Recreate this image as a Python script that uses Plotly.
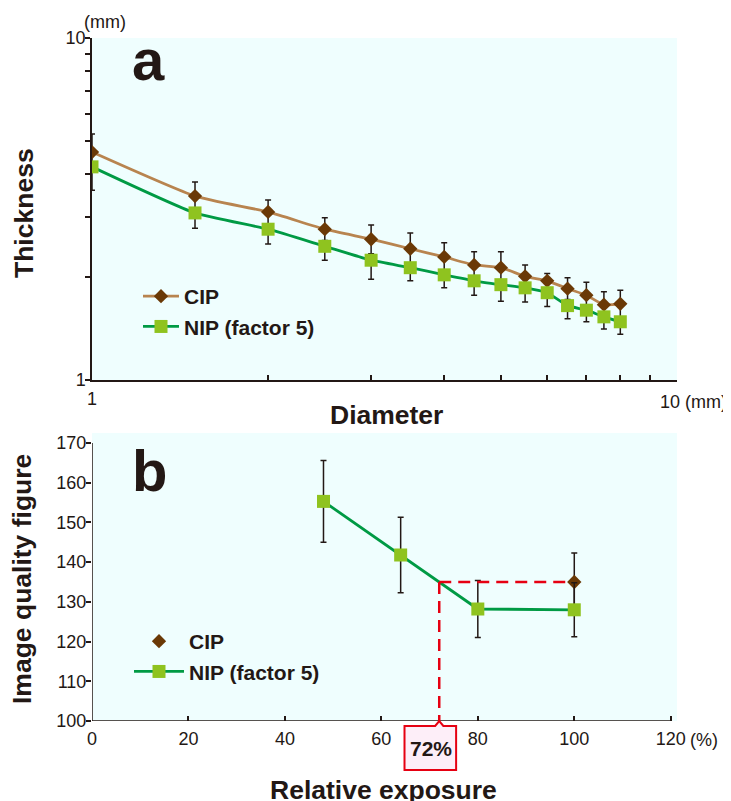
import plotly.graph_objects as go

# ---------------- data ----------------
diam = [1, 1.5, 2, 2.5, 3, 3.5, 4, 4.5, 5, 5.5, 6, 6.5, 7, 7.5, 8]
cip_thk = [4.64, 3.45, 3.10, 2.76, 2.58, 2.42, 2.29, 2.17, 2.13, 2.01, 1.95, 1.85, 1.77, 1.66, 1.67]
cip_err_up = [0.60, 0.34, 0.26, 0.22, 0.26, 0.27, 0.23, 0.20, 0.24, 0.16, 0.10, 0.14, 0.16, 0.15, 0.16]
cip_err_dn = [0.53, 0.31, 0.24, 0.20, 0.24, 0.24, 0.21, 0.18, 0.22, 0.15, 0.10, 0.13, 0.15, 0.14, 0.15]
nip_thk = [4.20, 3.08, 2.76, 2.46, 2.24, 2.13, 2.03, 1.95, 1.90, 1.86, 1.80, 1.65, 1.60, 1.53, 1.48]
nip_err_up = [0] * 15
nip_err_dn = [0.61, 0.30, 0.26, 0.22, 0.27, 0.18, 0.17, 0.18, 0.20, 0.17, 0.16, 0.14, 0.12, 0.12, 0.12]

exposure_nip = [48, 64, 80, 100]
iqf_nip = [155.3, 141.8, 128.2, 128.0]
iqf_nip_err = [10.3, 9.5, 7.2, 6.8]
exposure_cip = [100]
iqf_cip = [135.0]
iqf_cip_err = [7.3]
equiv_exposure = 72
equiv_iqf = 135.0

log_ticks = [1, 2, 3, 4, 5, 6, 7, 8, 9, 10]
x_log_labels = ["1", "", "", "", "", "", "", "", "", ""]
y_log_labels = ["1", "", "", "", "", "", "", "", "", "10"]
exp_ticks = [0, 20, 40, 60, 80, 100, 120]
exp_labels = ["0", "20", "40", "60", "80", "100", "120"]
iqf_ticks = [100, 110, 120, 130, 140, 150, 160, 170]

# ---------------- style ----------------
FONT = "Liberation Sans, Arial, sans-serif"
INK = "#231815"
CIP_LINE = "#b8844f"
CIP_MARK = "#6a3906"
NIP_LINE = "#009a44"
NIP_MARK = "#8fc31f"
BG = "#effefe"
RED = "#e60012"

OFF = 8                      # page body margin
W, H = 731 - OFF, 801 - OFF
L, T, B = 92 - OFF, 38 - OFF, 80
R = W - L - 585
PW, PH = W - L - R, H - T - B


def py(ypage):
    return (H - B - (ypage - OFF)) / PH


def px(xpage):
    return (xpage - OFF - L) / PW


err_style = dict(color=INK, thickness=1.5, width=3)

fig = go.Figure()

# ---- panel a ----
fig.add_trace(go.Scatter(
    x=diam, y=cip_thk, name="CIP", mode="lines+markers",
    line=dict(color=CIP_LINE, width=2.8, shape="spline", smoothing=0.5),
    marker=dict(symbol="diamond", size=11, color=CIP_MARK),
    error_y=dict(type="data", symmetric=False, array=cip_err_up, arrayminus=cip_err_dn, **err_style),
    xaxis="x", yaxis="y", legend="legend",
))
fig.add_trace(go.Scatter(
    x=diam, y=nip_thk, name="NIP (factor 5)", mode="lines+markers",
    line=dict(color=NIP_LINE, width=2.8, shape="spline", smoothing=0.5),
    marker=dict(symbol="square", size=13, color=NIP_MARK),
    error_y=dict(type="data", symmetric=False, array=nip_err_up, arrayminus=nip_err_dn, **err_style),
    xaxis="x", yaxis="y", legend="legend",
))

# ---- panel b ----
fig.add_trace(go.Scatter(
    x=exposure_cip, y=iqf_cip, name="CIP", mode="markers",
    marker=dict(symbol="diamond", size=11, color=CIP_MARK),
    error_y=dict(type="data", array=iqf_cip_err, **err_style),
    xaxis="x2", yaxis="y2", legend="legend2",
))
fig.add_trace(go.Scatter(
    x=exposure_nip, y=iqf_nip, name="NIP (factor 5)", mode="lines+markers",
    line=dict(color=NIP_LINE, width=2.8),
    marker=dict(symbol="square", size=13, color=NIP_MARK),
    error_y=dict(type="data", array=iqf_nip_err, **err_style),
    xaxis="x2", yaxis="y2", legend="legend2",
))

tickfont = dict(family=FONT, size=18, color=INK)
common = dict(showgrid=False, zeroline=False, tickfont=tickfont, tickcolor=INK,
              tickwidth=1.5, ticklen=5)
legfont = dict(family=FONT, size=21, color=INK, weight="bold")

fig.update_layout(
    width=W, height=H,
    margin=dict(l=L, r=R, t=T, b=B, autoexpand=False),
    paper_bgcolor="white", plot_bgcolor=BG,
    font=dict(family=FONT, color=INK),
    showlegend=True,
    xaxis=dict(type="log", range=[0, 1], domain=[0, 1], anchor="y",
               tickvals=log_ticks, ticktext=x_log_labels, ticks="inside",
               showline=True, linecolor=INK, linewidth=1.5, ticklabelstandoff=2, **common),
    yaxis=dict(type="log", range=[0, 1], domain=[py(380), 1], anchor="x",
               tickvals=log_ticks, ticktext=y_log_labels, ticks="outside",
               showline=True, linecolor=INK, linewidth=1.5, ticklabelstandoff=-4, **common),
    xaxis2=dict(range=[0, 121.3], domain=[0, 1], anchor="y2",
                tickvals=exp_ticks, ticktext=exp_labels,
                ticks="inside", showline=False, ticklabelstandoff=5, **common),
    yaxis2=dict(range=[100, 172.52], domain=[0, py(433)], anchor="x2",
                tickvals=iqf_ticks, ticks="outside", showline=False,
                ticklabelstandoff=-4, **common),
    legend=dict(x=px(138), y=py(276), xanchor="left", yanchor="top", itemwidth=36,
                bgcolor="rgba(0,0,0,0)", font=legfont, itemclick=False),
    legend2=dict(x=px(129), y=py(621), xanchor="left", yanchor="top", itemwidth=50,
                 bgcolor="rgba(0,0,0,0)", font=legfont, itemclick=False),
)

# axis lines for panel b (end at last tick)
fig.add_shape(type="line", xref="x2", yref="y2", x0=0, x1=120, y0=100, y1=100,
              line=dict(color=INK, width=1.5))
fig.add_shape(type="line", xref="x2", yref="y2", x0=0, x1=0, y0=100, y1=170,
              line=dict(color=INK, width=1.5))

# red dashed guide lines
fig.add_shape(type="line", xref="x2", yref="y2", x0=equiv_exposure, x1=99.3,
              y0=equiv_iqf, y1=equiv_iqf, line=dict(color=RED, width=2.5, dash="12px,7px"))
fig.add_shape(type="line", xref="x2", yref="y2", x0=equiv_exposure, x1=equiv_exposure,
              y0=equiv_iqf, y1=100, line=dict(color=RED, width=2.5, dash="12px,7px"))

# callout box for 72%
xl, xr = equiv_exposure - 7.2, equiv_exposure + 3.5
xn0, xn1 = equiv_exposure - 0.85, equiv_exposure + 0.85
yt, yb, yn = py(726), py(770), py(721)
fig.add_shape(type="path", xref="x2", yref="paper",
              path=f"M {xl},{yt} L {xn0},{yt} L {equiv_exposure},{yn} L {xn1},{yt} "
                   f"L {xr},{yt} L {xr},{yb} L {xl},{yb} Z",
              fillcolor="#fdeef8", line=dict(color=RED, width=2), layer="above")


def note(text, xp, yp, size, bold=False, angle=0, xanchor="center", xref="paper", xval=None):
    return dict(text=text, x=xval if xval is not None else px(xp), xref=xref,
                y=py(yp), yref="paper", xanchor=xanchor, yanchor="middle",
                showarrow=False, textangle=angle,
                font=dict(family=FONT, size=size, color=INK,
                          weight="bold" if bold else "normal"))


ann = [
    note(f"{equiv_exposure}%", 0, 749, 21, bold=True, xref="x2", xval=equiv_exposure - 1.8),
    note("a", 148, 60, 58, bold=True),
    note("b", 149, 470, 58, bold=True),
    note("Thickness", 24, 213, 26.5, bold=True, angle=-90),
    note("Diameter", 386, 415, 26.5, bold=True),
    note("Image quality figure", 22, 579, 26.5, bold=True, angle=-90),
    note("Relative exposure", 383, 790, 26.5, bold=True),
    note("(mm)", 82, 22, 18, xanchor="left"),
    note("10 (mm)", 658, 402, 18, xanchor="left"),
    note("(%)", 688, 740, 18, xanchor="left"),
]
fig.update_layout(annotations=ann)

fig.write_html("out.html")
